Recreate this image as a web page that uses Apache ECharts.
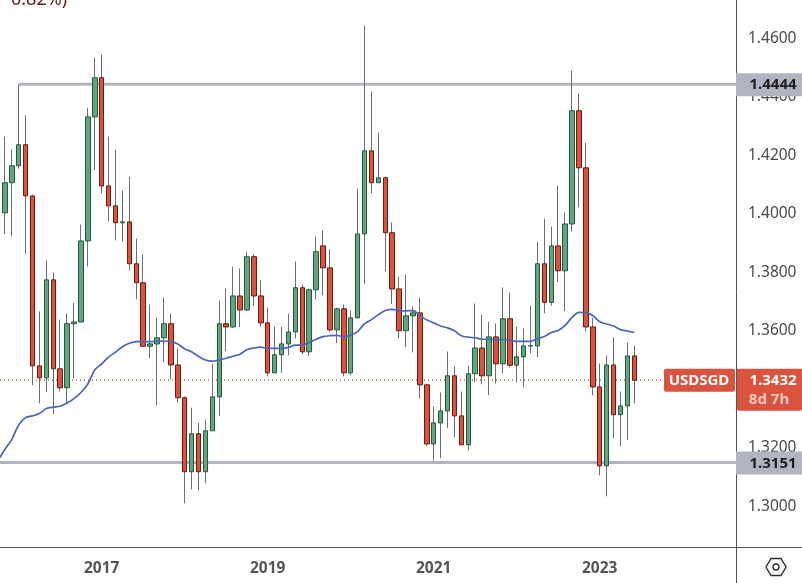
<!DOCTYPE html>
<html>
<head>
<meta charset="utf-8">
<title>USDSGD</title>
<style>
html, body { margin: 0; padding: 0; background: #fff; }
#chart { width: 802px; height: 583px; }
</style>
<script src="https://cdn.jsdelivr.net/npm/echarts@6/dist/echarts.min.js"></script>
</head>
<body>
<div id="chart"></div>
<script>
// monthly candles, Nov 2015 to Jun 2023
var opens = [1.4004,1.4107,1.4165,1.4237,1.4062,1.3481,1.3440,1.3775,1.3471,1.3406,1.3625,1.3631,1.3908,1.4332,1.4466,1.4096,1.4028,1.3970,1.3973,1.3830,1.3765,1.3548,1.3556,1.3577,1.3625,1.3484,1.3372,1.3119,1.3249,1.3119,1.3259,1.3375,1.3625,1.3614,1.3720,1.3672,1.3854,1.3720,1.3628,1.3457,1.3519,1.3556,1.3597,1.3748,1.3529,1.3741,1.3891,1.3816,1.3604,1.3676,1.3457,1.3645,1.3932,1.4216,1.4107,1.4124,1.3936,1.3744,1.3601,1.3652,1.3662,1.3416,1.3214,1.3286,1.3327,1.3447,1.3310,1.3211,1.3454,1.3542,1.3447,1.3580,1.3488,1.3642,1.3483,1.3512,1.3549,1.3549,1.3830,1.3698,1.3891,1.3806,1.3966,1.4353,1.4158,1.3614,1.3409,1.3139,1.3484,1.3314,1.3344,1.3515];
var closes = [1.4107,1.4165,1.4237,1.4062,1.3481,1.3440,1.3775,1.3471,1.3406,1.3625,1.3631,1.3908,1.4332,1.4466,1.4096,1.4028,1.3970,1.3973,1.3830,1.3765,1.3548,1.3556,1.3577,1.3625,1.3484,1.3372,1.3119,1.3249,1.3119,1.3259,1.3375,1.3625,1.3614,1.3720,1.3672,1.3854,1.3720,1.3628,1.3457,1.3519,1.3556,1.3597,1.3748,1.3529,1.3741,1.3871,1.3816,1.3604,1.3676,1.3457,1.3645,1.3932,1.4216,1.4107,1.4124,1.3936,1.3744,1.3601,1.3652,1.3662,1.3416,1.3214,1.3286,1.3327,1.3447,1.3310,1.3211,1.3454,1.3542,1.3447,1.3580,1.3488,1.3642,1.3483,1.3512,1.3549,1.3550,1.3830,1.3698,1.3891,1.3806,1.3966,1.4353,1.4158,1.3614,1.3409,1.3139,1.3484,1.3314,1.3344,1.3515,1.3432];
var highs = [1.4265,1.4221,1.4443,1.4337,1.4066,1.3667,1.3841,1.3800,1.3639,1.3660,1.3696,1.3964,1.4363,1.4535,1.4545,1.4265,1.4220,1.4080,1.4128,1.3916,1.3862,1.3691,1.3646,1.3715,1.3660,1.3540,1.3376,1.3338,1.3287,1.3297,1.3489,1.3704,1.3745,1.3820,1.3814,1.3871,1.3862,1.3773,1.3680,1.3615,1.3615,1.3660,1.3838,1.3759,1.3745,1.3923,1.3944,1.3879,1.3680,1.3691,1.3670,1.4087,1.4644,1.4419,1.4279,1.4128,1.3971,1.3786,1.3793,1.3684,1.3715,1.3420,1.3342,1.3390,1.3530,1.3479,1.3393,1.3482,1.3694,1.3656,1.3632,1.3626,1.3749,1.3732,1.3615,1.3609,1.3687,1.3906,1.3985,1.3957,1.4097,1.4005,1.4491,1.4412,1.4244,1.3646,1.3489,1.3516,1.3578,1.3393,1.3561,1.3550];
var lows = [1.3931,1.3924,1.4155,1.3863,1.3415,1.3353,1.3391,1.3316,1.3394,1.3353,1.3439,1.3631,1.3821,1.4150,1.4071,1.3975,1.3910,1.3907,1.3807,1.3709,1.3545,1.3507,1.3346,1.3493,1.3435,1.3357,1.3011,1.3059,1.3056,1.3080,1.3259,1.3309,1.3531,1.3611,1.3613,1.3669,1.3685,1.3616,1.3445,1.3457,1.3457,1.3517,1.3575,1.3521,1.3514,1.3709,1.3722,1.3598,1.3558,1.3445,1.3449,1.3645,1.3760,1.4071,1.4107,1.3804,1.3692,1.3575,1.3545,1.3527,1.3370,1.3207,1.3158,1.3165,1.3268,1.3237,1.3211,1.3192,1.3425,1.3418,1.3381,1.3421,1.3456,1.3476,1.3425,1.3408,1.3524,1.3510,1.3661,1.3687,1.3767,1.3668,1.3941,1.4023,1.3599,1.3381,1.3107,1.3035,1.3234,1.3206,1.3227,1.3353];
// moving average, first value sits one month before the first candle
var maValues = [1.3157,1.3195,1.3229,1.3279,1.3304,1.3310,1.3318,1.3335,1.3340,1.3343,1.3354,1.3369,1.3390,1.3419,1.3467,1.3488,1.3511,1.3528,1.3546,1.3558,1.3564,1.3564,1.3564,1.3565,1.3566,1.3564,1.3556,1.3539,1.3529,1.3513,1.3501,1.3497,1.3501,1.3507,1.3514,1.3521,1.3536,1.3542,1.3545,1.3541,1.3541,1.3541,1.3544,1.3552,1.3552,1.3561,1.3572,1.3581,1.3584,1.3585,1.3581,1.3586,1.3598,1.3625,1.3639,1.3656,1.3670,1.3674,1.3670,1.3669,1.3670,1.3653,1.3638,1.3628,1.3617,1.3611,1.3601,1.3584,1.3579,1.3577,1.3572,1.3572,1.3570,1.3571,1.3569,1.3565,1.3565,1.3565,1.3574,1.3581,1.3595,1.3602,1.3619,1.3647,1.3664,1.3663,1.3653,1.3632,1.3624,1.3617,1.3605,1.3600,1.3595];
var yearLabels = ['2017', '2019', '2021', '2023'];
var yearPositions = [14, 38, 62, 86];
var priceTicks = [1.30, 1.32, 1.34, 1.36, 1.38, 1.40, 1.42, 1.44, 1.46];
var resistance = 1.4444;
var support = 1.3151;
var lastPrice = 1.3432;

var xMin = -0.7, xMax = 105.7;

var wickData = opens.map(function (o, i) { return [i, o, closes[i], lows[i], highs[i]]; });
var bodyData = opens.map(function (o, i) {
    return [i, o, closes[i], Math.min(o, closes[i]), Math.max(o, closes[i])];
});
var maData = maValues.map(function (v, i) { return [i - 1, v]; });

var fontName = '"Noto Sans", sans-serif';
var gray = '#b2b5c1';
var red = '#d9533f';

var chart = echarts.init(document.getElementById('chart'));

chart.setOption({
    animation: false,
    backgroundColor: '#ffffff',
    grid: { left: 0, right: 66, top: 0.5, height: 547, containLabel: false },
    xAxis: {
        type: 'value',
        min: xMin,
        max: xMax,
        splitLine: { show: false },
        axisLine: { show: false },
        axisTick: { show: false },
        axisLabel: {
            customValues: yearPositions,
            margin: 13,
            fontFamily: fontName,
            fontSize: 15.5,
            fontWeight: 'bold',
            color: '#555555',
            formatter: function (v) { return yearLabels[yearPositions.indexOf(v)]; }
        }
    },
    yAxis: {
        type: 'value',
        position: 'right',
        min: 1.286,
        max: 1.473,
        splitLine: { show: false },
        axisLine: { show: false },
        axisTick: { show: false },
        axisLabel: {
            customValues: priceTicks,
            margin: 12,
            padding: [2, 0, 0, 0],
            fontFamily: fontName,
            fontSize: 15.5,
            color: '#4a4a4a',
            formatter: function (v) { return v.toFixed(4); }
        }
    },
    series: [
        {
            type: 'line', symbol: 'none', silent: true, z: 1,
            data: [[2, resistance], [xMax, resistance]],
            lineStyle: { color: gray, width: 3 }
        },
        {
            type: 'line', symbol: 'none', silent: true, z: 1,
            data: [[xMin, support], [xMax, support]],
            lineStyle: { color: gray, width: 3 }
        },
        {
            type: 'line', symbol: 'none', silent: true, z: 2,
            data: [[xMin, lastPrice], [95.1, lastPrice]],
            lineStyle: { color: '#cc3a2a', width: 1.2, type: [1, 3] }
        },
        {
            // grey wicks under the bodies
            type: 'candlestick', z: 3, barWidth: 1, data: wickData,
            itemStyle: { color: '#6e6e6e', color0: '#6e6e6e', borderColor: '#6e6e6e', borderColor0: '#6e6e6e', borderWidth: 1 }
        },
        {
            type: 'candlestick', z: 4, barWidth: 5, data: bodyData,
            itemStyle: { color: '#64a47e', color0: red, borderColor: '#1d5c3d', borderColor0: '#6b1a12', borderWidth: 1 }
        },
        {
            type: 'line', symbol: 'none', silent: true, z: 5, smooth: 0.3,
            data: maData,
            lineStyle: { color: '#4a67b5', width: 1.7 }
        }
    ]
});

function priceY(v) { return chart.convertToPixel({ yAxisIndex: 0 }, v); }

function priceBox(v, label) {
    var y = priceY(v);
    return [
        { type: 'rect', z: 100, shape: { x: 736, y: y - 11, width: 66, height: 23 }, style: { fill: gray } },
        { type: 'text', z: 101, x: 773, y: y + 1, style: { text: label, fill: '#1c1c1c', font: 'bold 15px ' + fontName, align: 'center', verticalAlign: 'middle' } }
    ];
}

var lastY = priceY(lastPrice);
var elements = priceBox(resistance, '1.4444').concat(priceBox(support, '1.3151'), [
    { type: 'line', z: 99, shape: { x1: 0, y1: 547.5, x2: 802, y2: 547.5 }, style: { stroke: '#555555', lineWidth: 1 } },
    { type: 'line', z: 99, shape: { x1: 736.5, y1: 0, x2: 736.5, y2: 583 }, style: { stroke: '#555555', lineWidth: 1 } },
    { type: 'rect', z: 100, shape: { x: 664, y: lastY - 11.5, width: 71, height: 23, r: 2 }, style: { fill: red } },
    { type: 'text', z: 101, x: 699, y: lastY + 0.5, style: { text: 'USDSGD', fill: '#ffffff', font: 'bold 15px ' + fontName, align: 'center', verticalAlign: 'middle' } },
    { type: 'rect', z: 100, shape: { x: 737, y: lastY - 11.5, width: 65, height: 42, r: [0, 0, 2, 2] }, style: { fill: red } },
    { type: 'text', z: 101, x: 773, y: lastY + 0.5, style: { text: '1.3432', fill: '#ffffff', font: 'bold 15px ' + fontName, align: 'center', verticalAlign: 'middle' } },
    { type: 'text', z: 101, x: 769, y: lastY + 19.5, style: { text: '8d 7h', fill: '#f6c9c0', font: 'bold 15px ' + fontName, align: 'center', verticalAlign: 'middle' } },
    { type: 'text', z: 101, x: 11, y: 9, style: { text: '0.82%)', fill: '#5c1d14', font: '18px ' + fontName, align: 'left', verticalAlign: 'bottom' } },
    // settings hexagon, bottom right corner
    { type: 'polygon', z: 101, shape: { points: [[766, 567], [771, 558.5], [781, 558.5], [786, 567], [781, 575.5], [771, 575.5]] }, style: { fill: 'none', stroke: '#2a2e39', lineWidth: 1.4 } },
    { type: 'circle', z: 101, shape: { cx: 776, cy: 567, r: 3 }, style: { fill: 'none', stroke: '#2a2e39', lineWidth: 1.4 } }
]);

chart.setOption({ graphic: { elements: elements } });
</script>
</body>
</html>
